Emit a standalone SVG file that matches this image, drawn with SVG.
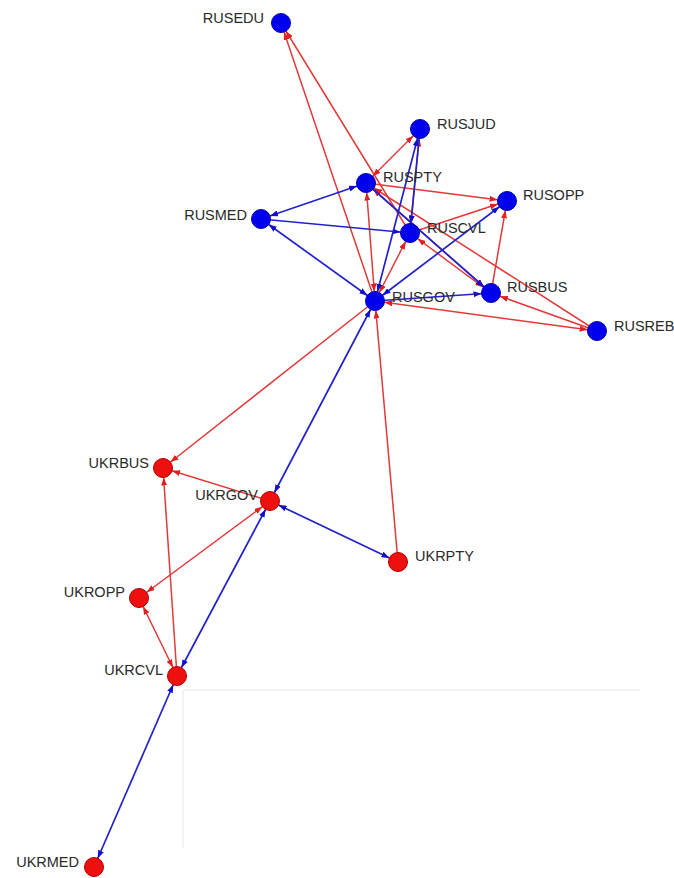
<svg xmlns="http://www.w3.org/2000/svg" width="674" height="878" viewBox="0 0 674 878">
<style>
.r{stroke:#e03a3a;stroke-width:1.5;fill:none;marker-end:url(#ar)}
.b{stroke:#2222cc;stroke-width:1.7;fill:none;marker-end:url(#ab)}
.r2{marker-start:url(#ar)}
.b2{marker-start:url(#ab)}
.nr{fill:#ee0f0f;stroke:#b00000;stroke-width:1}
.nb{fill:#0000ee;stroke:#0000aa;stroke-width:1}
text{font-family:"Liberation Sans","DejaVu Sans",sans-serif;font-size:14.5px;fill:#2a2a2a}
.e{text-anchor:end}
</style>
<defs>
<marker id="ar" markerUnits="userSpaceOnUse" markerWidth="8" markerHeight="6" refX="17.5" refY="3" orient="auto-start-reverse"><path d="M0,0 L8,3 L0,6 z" fill="#e02020"/></marker>
<marker id="ab" markerUnits="userSpaceOnUse" markerWidth="8" markerHeight="6" refX="17.5" refY="3" orient="auto-start-reverse"><path d="M0,0 L8,3 L0,6 z" fill="#1010cc"/></marker>
</defs>
<rect width="674" height="878" fill="#fff"/>
<g id="frame" stroke="#efefef" stroke-width="1.5" fill="none">
<line x1="183" y1="690" x2="640" y2="690"/>
<line x1="183" y1="690" x2="183" y2="848"/>
</g>
<g id="connectors">
<line class="r" x1="375" y1="301" x2="281" y2="23"/>
<line class="r" x1="410" y1="233" x2="281" y2="23"/>
<line class="r r2" x1="366" y1="183" x2="420" y2="129"/>
<line class="r" x1="366" y1="183" x2="507" y2="201"/>
<line class="r" x1="410" y1="233" x2="507" y2="201"/>
<line class="r" x1="491" y1="293" x2="507" y2="201"/>
<line class="r r2" x1="375" y1="301" x2="597" y2="331"/>
<line class="r" x1="597" y1="331" x2="491" y2="293"/>
<line class="r" x1="597" y1="331" x2="366" y2="183"/>
<line class="r r2" x1="491" y1="293" x2="410" y2="233"/>
<line class="r r2" x1="366" y1="183" x2="491" y2="293"/>
<line class="r r2" x1="410" y1="233" x2="420" y2="129"/>
<line class="r r2" x1="375" y1="301" x2="366" y2="183"/>
<line class="r r2" x1="375" y1="301" x2="410" y2="233"/>
<line class="r" x1="375" y1="301" x2="163" y2="468"/>
<line class="r" x1="398" y1="562" x2="375" y2="301"/>
<line class="r" x1="270" y1="501" x2="163" y2="468"/>
<line class="r r2" x1="270" y1="501" x2="139" y2="598"/>
<line class="r" x1="177" y1="676" x2="163" y2="468"/>
<line class="r r2" x1="177" y1="676" x2="139" y2="598"/>
<line class="b b2" x1="261" y1="219" x2="366" y2="183"/>
<line class="b" x1="261" y1="219" x2="410" y2="233"/>
<line class="b b2" x1="261" y1="219" x2="375" y2="301"/>
<line class="b b2" x1="420" y1="129" x2="375" y2="301"/>
<line class="b" x1="420" y1="129" x2="410" y2="233"/>
<line class="b b2" x1="375" y1="301" x2="507" y2="201"/>
<line class="b" x1="375" y1="301" x2="491" y2="293"/>
<line class="b" x1="366" y1="183" x2="491" y2="293"/>
<line class="b b2" x1="375" y1="301" x2="270" y2="501"/>
<line class="b b2" x1="270" y1="501" x2="398" y2="562"/>
<line class="b b2" x1="270" y1="501" x2="177" y2="676"/>
<line class="b b2" x1="177" y1="676" x2="94" y2="867"/>
</g>
<g id="RUSEDU"><circle class="nb" cx="281" cy="23" r="9.5"/><text class="e" x="264" y="23">RUSEDU</text></g>
<g id="RUSJUD"><circle class="nb" cx="420" cy="129" r="9.5"/><text x="437" y="129">RUSJUD</text></g>
<g id="RUSPTY"><circle class="nb" cx="366" cy="183" r="9.5"/><text x="383" y="182">RUSPTY</text></g>
<g id="RUSOPP"><circle class="nb" cx="507" cy="201" r="9.5"/><text x="523" y="200">RUSOPP</text></g>
<g id="RUSMED"><circle class="nb" cx="261" cy="219" r="9.5"/><text class="e" x="247" y="220">RUSMED</text></g>
<g id="RUSCVL"><circle class="nb" cx="410" cy="233" r="9.5"/><text x="427" y="233">RUSCVL</text></g>
<g id="RUSGOV"><circle class="nb" cx="375" cy="301" r="9.5"/><text x="392" y="302">RUSGOV</text></g>
<g id="RUSBUS"><circle class="nb" cx="491" cy="293" r="9.5"/><text x="507" y="292">RUSBUS</text></g>
<g id="RUSREB"><circle class="nb" cx="597" cy="331" r="9.5"/><text x="614" y="331">RUSREB</text></g>
<g id="UKRBUS"><circle class="nr" cx="163" cy="468" r="9.5"/><text class="e" x="149" y="468">UKRBUS</text></g>
<g id="UKRGOV"><circle class="nr" cx="270" cy="501" r="9.5"/><text class="e" x="258" y="500">UKRGOV</text></g>
<g id="UKRPTY"><circle class="nr" cx="398" cy="562" r="9.5"/><text x="415" y="561">UKRPTY</text></g>
<g id="UKROPP"><circle class="nr" cx="139" cy="598" r="9.5"/><text class="e" x="125" y="597">UKROPP</text></g>
<g id="UKRCVL"><circle class="nr" cx="177" cy="676" r="9.5"/><text class="e" x="163" y="675">UKRCVL</text></g>
<g id="UKRMED"><circle class="nr" cx="94" cy="867" r="9.5"/><text class="e" x="79" y="867">UKRMED</text></g>
</svg>
